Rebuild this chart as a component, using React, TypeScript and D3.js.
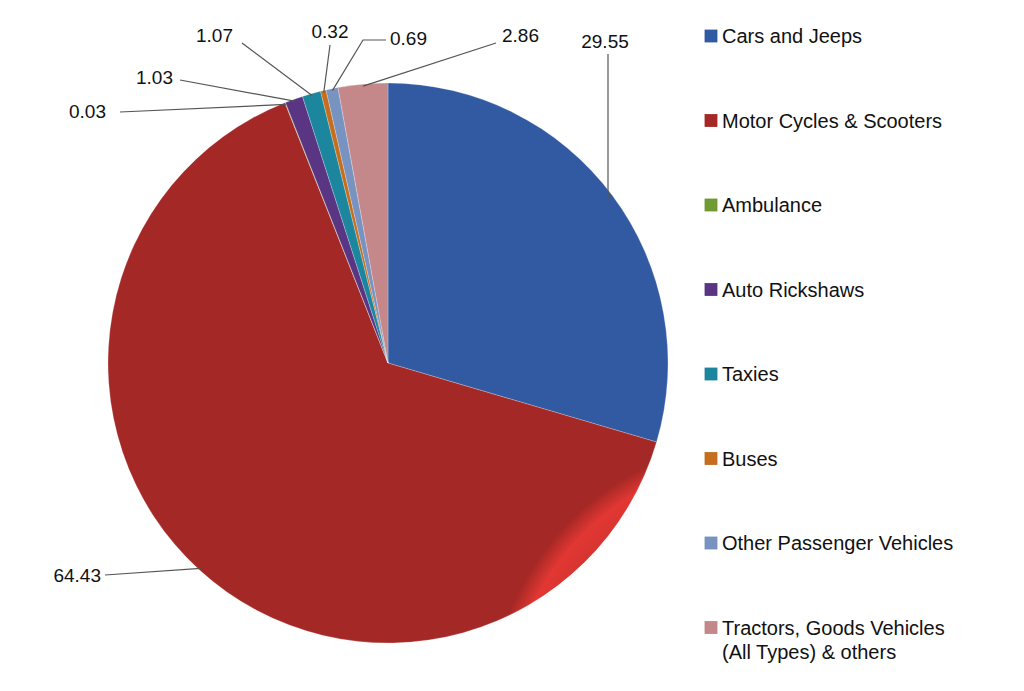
import React from 'react';
import * as d3 from 'd3';

const categories = ['Cars and Jeeps', 'Motor Cycles & Scooters', 'Ambulance', 'Auto Rickshaws', 'Taxies', 'Buses', 'Other Passenger Vehicles', 'Tractors, Goods Vehicles|(All Types) & others'];
const values = [29.55, 64.43, 0.03, 1.03, 1.07, 0.32, 0.69, 2.86];
const colors = ['#3a6cc2', '#c4302c', '#86b83c', '#6a3f9c', '#23a0be', '#ea8424', '#8fb0e6', '#eba3a5'];

// label text position and bend point for each leader line
const labelPos: { tx: number; ty: number; anchor: string; lx: number; ly: number; bx?: number; by?: number }[] = [
  { tx: 597, ty: 40, anchor: 'middle', lx: 600, ly: 46, bx: 600, by: 190 },
  { tx: 93, ty: 574, anchor: 'end', lx: 97, ly: 567 },
  { tx: 98, ty: 110, anchor: 'end', lx: 112, ly: 104 },
  { tx: 165, ty: 76, anchor: 'end', lx: 172, ly: 72 },
  { tx: 225, ty: 34, anchor: 'end', lx: 234, ly: 35 },
  { tx: 322, ty: 30, anchor: 'middle', lx: 322, ly: 37 },
  { tx: 382, ty: 37, anchor: 'start', lx: 378, ly: 32, bx: 355, by: 32 },
  { tx: 494, ty: 34, anchor: 'start', lx: 488, ly: 35 },
];

export default function App() {
  const cx = 380, cy = 355, r = 280;
  const pie = d3.pie<number>().sort(null).value(d => d);
  const arcs = pie(values);
  const arc = d3.arc<d3.PieArcDatum<number>>().innerRadius(0).outerRadius(r);
  const font = '"Liberation Sans Narrow", "Liberation Sans", Arial, sans-serif';
  return (
    <svg width={1008} height={683} style={{ display: 'block' }} fontFamily={font}>
      <defs>
        {colors.map((c, i) => (
          <radialGradient key={i} id={`g${i}`} gradientUnits="userSpaceOnUse" cx={cx} cy={cy} r={r}>
            <stop offset="0%" stopColor={d3.color(c)!.darker(0.3).toString()} />
            <stop offset="75%" stopColor={c} />
            <stop offset="93%" stopColor={d3.color(c)!.brighter(0.4).toString()} />
            <stop offset="100%" stopColor={d3.color(c)!.darker(0.5).toString()} />
          </radialGradient>
        ))}
      </defs>
      <g transform={`translate(${cx},${cy})`}>
        {arcs.map((a, i) => (
          <path key={i} d={arc(a) || ''} fill={`url(#g${i})`} stroke="#ffffff" strokeOpacity={0.4} strokeWidth={0.6} />
        ))}
      </g>
      {arcs.map((a, i) => {
        const p = labelPos[i];
        const mid = (a.startAngle + a.endAngle) / 2;
        const ex = cx + Math.sin(mid) * (r - 2), ey = cy - Math.cos(mid) * (r - 2);
        const pts = p.bx !== undefined ? `${p.lx},${p.ly} ${p.bx},${p.by} ${ex},${ey}` : `${p.lx},${p.ly} ${ex},${ey}`;
        return (
          <g key={i}>
            <polyline points={pts} fill="none" stroke="#555" strokeWidth={1.2} />
            <text x={p.tx} y={p.ty} textAnchor={p.anchor} fontSize={19} fill="#111">{values[i].toFixed(2)}</text>
          </g>
        );
      })}
      {categories.map((c, i) => {
        const y = 28 + i * 84.5;
        const lines = c.split('|');
        return (
          <g key={i}>
            <rect x={697} y={y - 6} width={12} height={12} fill={`url(#g${i})`} stroke={d3.color(colors[i])!.darker(0.6).toString()} strokeWidth={0.8} />
            {lines.map((l, j) => (
              <text key={j} x={714} y={y + 7 + j * 24} fontSize={20} fill="#111">{l}</text>
            ))}
          </g>
        );
      })}
    </svg>
  );
}
